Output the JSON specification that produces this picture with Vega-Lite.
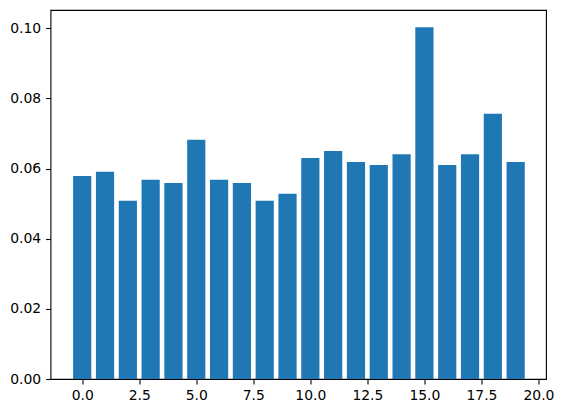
{
  "$schema": "https://vega.github.io/schema/vega-lite/v6.json",
  "width": 495.5,
  "height": 369,
  "autosize": {"type": "none"},
  "padding": {"left": 50.5, "top": 10, "right": 16, "bottom": 34},
  "background": "white",
  "config": {
    "view": {"stroke": "black", "strokeWidth": 1.1},
    "axis": {
      "grid": false,
      "domain": false,
      "tickColor": "black",
      "tickSize": 4.9,
      "tickWidth": 1.1,
      "labelColor": "black",
      "labelFont": "DejaVu Sans",
      "labelFontSize": 13.9,
      "labelPadding": 4.9,
      "title": null
    }
  },
  "data": {
    "values": [
      {"i": 0, "v": 0.0579},
      {"i": 1, "v": 0.0591},
      {"i": 2, "v": 0.0508},
      {"i": 3, "v": 0.0568},
      {"i": 4, "v": 0.0559},
      {"i": 5, "v": 0.0682},
      {"i": 6, "v": 0.0568},
      {"i": 7, "v": 0.0559},
      {"i": 8, "v": 0.0508},
      {"i": 9, "v": 0.0528},
      {"i": 10, "v": 0.0630},
      {"i": 11, "v": 0.0650},
      {"i": 12, "v": 0.0619},
      {"i": 13, "v": 0.0610},
      {"i": 14, "v": 0.0641},
      {"i": 15, "v": 0.1003},
      {"i": 16, "v": 0.0610},
      {"i": 17, "v": 0.0641},
      {"i": 18, "v": 0.0756},
      {"i": 19, "v": 0.0619}
    ]
  },
  "mark": {"type": "bar", "width": 18.2, "color": "#1f77b4"},
  "encoding": {
    "x": {
      "field": "i",
      "type": "quantitative",
      "scale": {"domain": [-1.39, 20.33], "nice": false, "zero": false, "padding": 0},
      "axis": {"values": [0, 2.5, 5, 7.5, 10, 12.5, 15, 17.5, 20], "format": ".1f", "labelFlush": false}
    },
    "y": {
      "field": "v",
      "type": "quantitative",
      "scale": {"domain": [0, 0.1052], "nice": false, "padding": 0},
      "axis": {"values": [0, 0.02, 0.04, 0.06, 0.08, 0.1], "format": ".2f", "labelFlush": false}
    }
  }
}
